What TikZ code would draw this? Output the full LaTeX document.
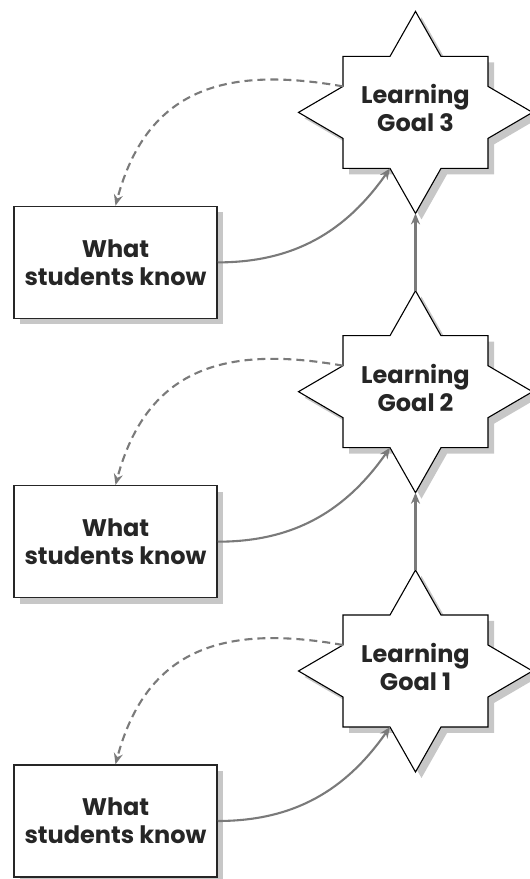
\documentclass[tikz,border=0pt]{standalone}
\usepackage{fontspec}
\setmainfont{Poppins}
\usetikzlibrary{arrows.meta,shadows}

\begin{document}
\begin{tikzpicture}
        [%%%%%%%%%%%%%%%%%%%%%%%%%%%%%%
        x=1pt,y=1pt,
        box/.style={rectangle,draw=black!85,line width=1.5pt,fill=white,
          minimum width=203pt,minimum height=112pt,align=center,text=black!85,
          font=\bfseries\fontsize{24}{28}\selectfont,
          drop shadow={shadow xshift=6pt,shadow yshift=-6pt,fill=black!22,opacity=1}},
        goal/.style={rectangle,inner sep=0pt,align=center,text=black!85,
          font=\bfseries\fontsize{24}{28}\selectfont},
        starline/.style={draw=black,line width=1.1pt,fill=white},
        shadowfill/.style={fill=black!22},
        link/.style={draw=black!52,line width=2.1pt,-{Stealth[length=11pt,width=9pt]}},
        guess/.style={link,dash pattern=on 8pt off 5pt},
        ]%%%%%%%%%%%%%%%%%%%%%%%%%%%%%%

        \useasboundingbox (0,0) rectangle (530,879);

        \foreach \i in {1,2,3}{
          \begin{scope}[shift={(415.5,208+279.3*\i-279.3)}]
            \foreach \s/\dx/\dy in {shadowfill/6/-6,starline/0/0}
            \path[\s,shift={(\dx,\dy)}] (-25.5,56) -- (0,101) -- (25.5,56) -- (72.5,56)
              -- (72.5,26) -- (117,0) -- (72.5,-26) -- (72.5,-56) -- (25.5,-56)
              -- (0,-101) -- (-25.5,-56) -- (-72.5,-56) -- (-72.5,-26) -- (-117,0)
              -- (-72.5,26) -- (-72.5,56) -- cycle;
            \node[goal] (goal\i) at (0,4) {Learning\\Goal \i};
            \coordinate (goaltop\i) at (0,101);
            \coordinate (goalbot\i) at (0,-101);
            \coordinate (goalin\i) at (-25.5,-56);
            \coordinate (goalout\i) at (-72.5,26);
          \end{scope}
          \node[box] (know\i) at (115.5,58+279.3*\i-279.3) {What\\students know};
        }

        \foreach \i in {1,2,3}{
          \draw[link] (know\i.east) to[out=0,in=-125] (goalin\i);
          \draw[guess] (goalout\i) to[out=170,in=75,looseness=1.2] (know\i.north);
        }
        \foreach \i/\j in {1/2,2/3}
          \draw[link] (goaltop\i) -- (goalbot\j);

      \end{tikzpicture}
\end{document}
